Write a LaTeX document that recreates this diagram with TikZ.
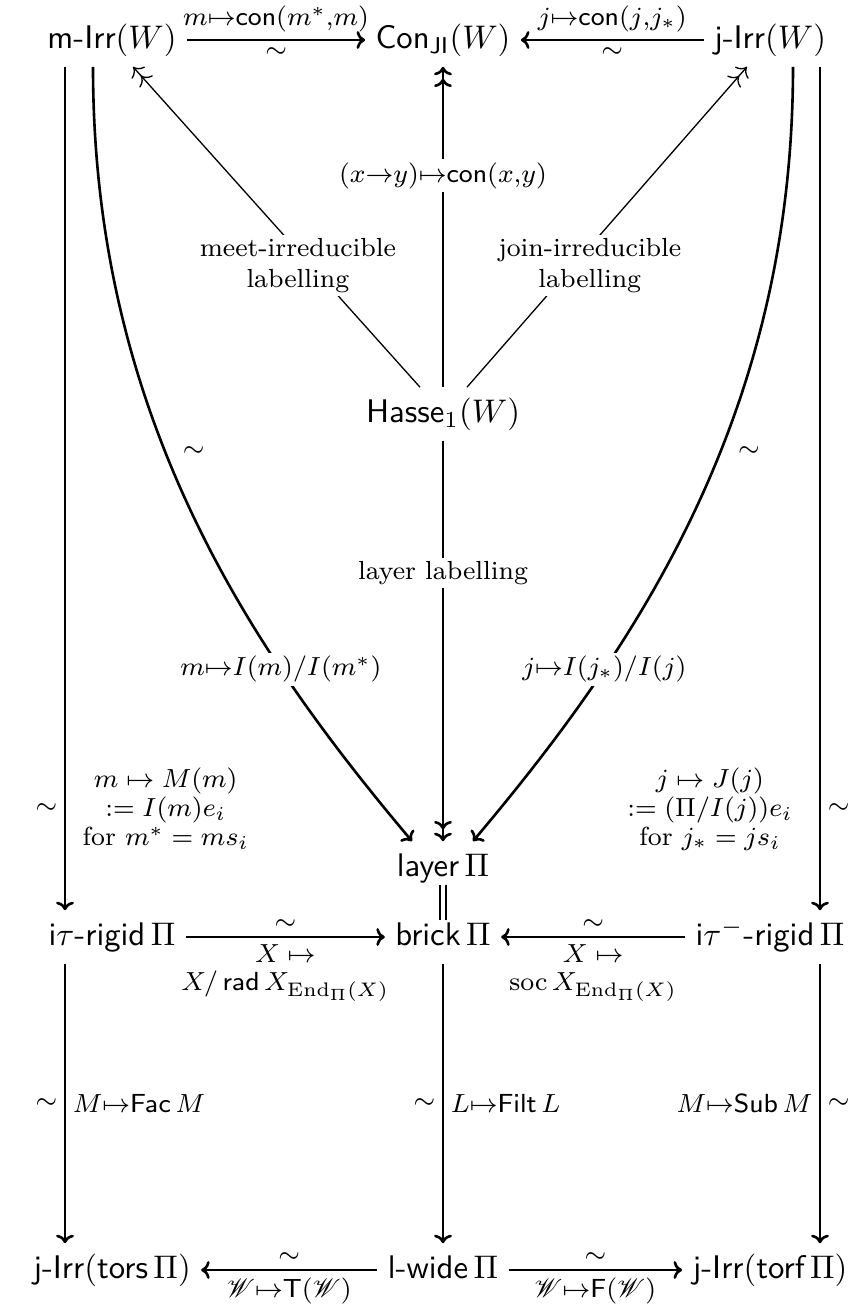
\documentclass[tikz,border=0pt]{standalone}
\usepackage{amsmath,amssymb}
\usepackage{mathrsfs}
\usepackage{tikz}
\usetikzlibrary{arrows.meta,calc}

\begin{document}
\begin{tikzpicture}[x=0.3058pt,y=0.3058pt]
  \path[use as bounding box] (0,0) rectangle (858,1304);
  \tikzset{
    cdObj/.style={font=\sffamily, text height=7.5pt, text depth=2.5pt, inner sep=3pt},
    cdMap/.style={-{To[length=2.6pt]}, line width=.8pt},
    cdOnto/.style={-{To[length=2.6pt,sep=1pt]To[length=2.6pt]}, line width=.8pt},
    cdOntoThin/.style={cdOnto, line width=.4pt},
    cdEq/.style={double, double distance=1.3pt, line width=.6pt, shorten <=-3pt, shorten >=-3pt},
    cdLbl/.style={font=\footnotesize, inner sep=2pt},
    cdDesc/.style={cdLbl, fill=white, inner sep=1pt}
  }

  % top row
  \node[cdObj] (mIrr) at (112,1264) {m-Irr$(W)$};
  \node[cdObj] (conJI) at (443,1264) {Con$_{\mathsf{JI}}(W)$};
  \node[cdObj] (jIrr) at (770,1264) {j-Irr$(W)$};

  % middle column
  \node[cdObj] (hasse) at (443,890) {Hasse$_1(W)$};
  \node[cdObj] (layer) at (443,436) {layer\,$\Pi$};

  \node[cdObj] (itRigid) at (112,367) {i$\tau$-rigid\,$\Pi$};
  \node[cdObj] (brick) at (443,367) {brick\,$\Pi$};
  \node[cdObj] (itmRigid) at (770,367) {i$\tau^{-}$-rigid\,$\Pi$};

  \node[cdObj] (jIrrTors) at (112,34) {j-Irr$($tors\,$\Pi)$};
  \node[cdObj] (lWide) at (443,34) {l-wide\,$\Pi$};
  \node[cdObj] (jIrrTorf) at (770,34) {j-Irr$($torf\,$\Pi)$};

  \draw[cdMap] (mIrr) -- node[cdLbl,above] {$m{\mapsto}\mathsf{con}(m^*{,}m)$}
    node[cdLbl,below] {$\sim$} (conJI);
  \draw[cdMap] (jIrr) -- node[cdLbl,above] {$j{\mapsto}\mathsf{con}(j{,}j_*)$}
    node[cdLbl,below] {$\sim$} (conJI);

  % labellings of the Hasse diagram
  \draw[cdOnto] (hasse) -- node[cdDesc,pos=.66] {$(x{\to}y){\mapsto}\mathsf{con}(x{,}y)$} (conJI);
  \draw[cdOntoThin] ($(hasse.north)+(-23,0)$) -- ($(mIrr.south)+(21,0)$)
    node[cdDesc,pos=.38,align=center,xshift=-4pt] {meet-irreducible\\labelling};
  \draw[cdOntoThin] ($(hasse.north)+(24,0)$) -- ($(jIrr.south)+(-23,0)$)
    node[cdDesc,pos=.38,align=center,xshift=5pt] {join-irreducible\\labelling};
  \draw[cdOnto] (hasse) -- node[cdDesc,pos=.33] {layer labelling} (layer);

  \draw[cdMap] ($(mIrr.south)+(-19,0)$) .. controls +(0,-350) and +(-161,191) .. ($(layer.north)+(-31,0)$)
    node[cdDesc,pos=.72] {$m{\mapsto}I(m)/I(m^*)$}
    node[cdLbl,pos=.42,right,xshift=3pt] {$\sim$};
  \draw[cdMap] ($(jIrr.south)+(23,0)$) .. controls +(0,-350) and +(161,191) .. ($(layer.north)+(30,0)$)
    node[cdDesc,pos=.72] {$j{\mapsto}I(j_*)/I(j)$}
    node[cdLbl,pos=.42,right,xshift=3pt] {$\sim$};

  \draw[cdMap] ($(mIrr.south)+(-47,0)$) -- ($(itRigid.north)+(-47,0)$)
    node[cdLbl,pos=.88,left] {$\sim$}
    node[cdLbl,pos=.88,right,align=center,xshift=3pt]
      {$m\mapsto M(m)$\\[-.6pt]$:=I(m)e_i$\\[-.6pt]for $m^*=ms_i$};
  \draw[cdMap] ($(jIrr.south)+(50,0)$) -- ($(itmRigid.north)+(50,0)$)
    node[cdLbl,pos=.88,right] {$\sim$}
    node[cdLbl,pos=.88,left,align=center,xshift=-6pt]
      {$j\mapsto J(j)$\\[-.6pt]$:=(\Pi/I(j))e_i$\\[-.6pt]for $j_*=js_i$};

  \draw[cdEq] (layer) -- (brick);

  \draw[cdMap] (itRigid) -- node[cdLbl,above] {$\sim$}
    node[cdLbl,below,align=center] {$X\mapsto$\\[-1pt]$X/\,\mathsf{rad}\,X_{\mathrm{End}_{\Pi}(X)}$} (brick);
  \draw[cdMap] (itmRigid) -- node[cdLbl,above] {$\sim$}
    node[cdLbl,below,align=center] {$X\mapsto$\\[-1pt]$\operatorname{soc}X_{\mathrm{End}_{\Pi}(X)}$} (brick);

  % torsion classes
  \draw[cdMap] ($(itRigid.south)+(-47,0)$) -- ($(jIrrTors.north)+(-47,0)$)
    node[cdLbl,midway,left] {$\sim$}
    node[cdLbl,midway,right] {$M{\mapsto}\mathsf{Fac}\,M$};
  \draw[cdMap] (brick) -- node[cdLbl,left] {$\sim$}
    node[cdLbl,right] {$L{\mapsto}\mathsf{Filt}\,L$} (lWide);
  \draw[cdMap] ($(itmRigid.south)+(50,0)$) -- ($(jIrrTorf.north)+(50,0)$)
    node[cdLbl,midway,right] {$\sim$}
    node[cdLbl,midway,left] {$M{\mapsto}\mathsf{Sub}\,M$};

  \draw[cdMap] (lWide) -- node[cdLbl,above] {$\sim$}
    node[cdLbl,below] {$\mathscr{W}{\mapsto}\mathsf{T}(\mathscr{W})$} (jIrrTors);
  \draw[cdMap] (lWide) -- node[cdLbl,above] {$\sim$}
    node[cdLbl,below] {$\mathscr{W}{\mapsto}\mathsf{F}(\mathscr{W})$} (jIrrTorf);
\end{tikzpicture}
\end{document}
